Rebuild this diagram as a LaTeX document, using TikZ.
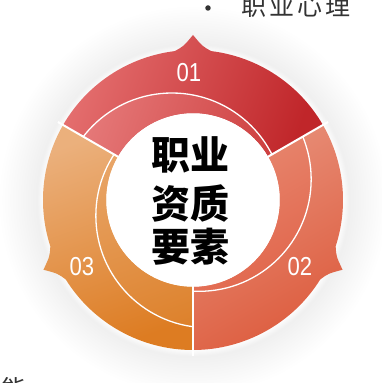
\documentclass[tikz,border=0pt]{standalone}
\usepackage{fontspec}
\setmainfont{Liberation Sans}
\newfontfamily\cjk{Noto Sans CJK SC}
\pgfdeclareradialshading{halo}{\pgfpoint{0bp}{0bp}}{color(0bp)=(white); color(19bp)=(white); color(20bp)=(black!6); color(22bp)=(black!3.5); color(23.7bp)=(black!1.5); color(25bp)=(white); color(50bp)=(white)}
\definecolor{oneL}{HTML}{E46E6E}
\definecolor{oneD}{HTML}{C0262A}
\definecolor{oneIL}{HTML}{E67A7A}
\definecolor{oneID}{HTML}{C93434}
\definecolor{twoL}{HTML}{E8907A}
\definecolor{twoD}{HTML}{DD5C3E}
\definecolor{twoIL}{HTML}{ECA08A}
\definecolor{twoID}{HTML}{E26A50}
\definecolor{thrL}{HTML}{EBB07C}
\definecolor{thrD}{HTML}{DD7C22}
\definecolor{thrIL}{HTML}{EAAA70}
\definecolor{thrID}{HTML}{DC7E26}
\definecolor{txtgrey}{HTML}{333333}
% #1 start, #2 end, #3 bump, #4 outer light, #5 outer dark, #6 inner light, #7 inner dark, #8 shading angle
\newcommand\ringseg[8]{%
  \shade[top color=#4, bottom color=#5, shading angle=#8]
    (#1:150) arc[start angle=#1, end angle=#3-7, radius=150]
    .. controls (#3-3.5:154) .. (#3:165) .. controls (#3+3.5:154) .. (#3+7:150)
    arc[start angle=#3+7, end angle=#2, radius=150] -- (#2:87)
    arc[start angle=#2, end angle=#1, radius=87] -- cycle;
  \begin{scope}
    \clip (#1:150) arc[start angle=#1, end angle=#3-7, radius=150]
    .. controls (#3-3.5:154) .. (#3:165) .. controls (#3+3.5:154) .. (#3+7:150)
    arc[start angle=#3+7, end angle=#2, radius=150] -- (#2:87)
    arc[start angle=#2, end angle=#1, radius=87] -- cycle;
    \shade[top color=#6, bottom color=#7, shading angle=#8] (#1+163.4:21.6) circle (112);
    \draw[white, line width=1.3pt] (#1+163.4:21.6) circle (112);
  \end{scope}
}
\begin{document}
\begin{tikzpicture}[x=1pt,y=1pt,
  num/.style={text=white, font=\fontsize{26}{26}\selectfont, inner sep=0pt, xscale=0.85, transform shape},
  ctext/.style={text=black, font=\cjk\bfseries\fontsize{39}{39}\selectfont, inner sep=0pt},
  side/.style={text=txtgrey, font=\cjk\fontsize{25}{25}\selectfont, inner sep=0pt, anchor=base west},
  gap/.style={white, line width=2pt}]
\useasboundingbox (-193,-183) rectangle (189,200);
\clip (-193,-183) rectangle (189,200);
\shade[shading=halo] (0,0) circle (195);
\ringseg{30}{150}{90}{oneL}{oneD}{oneIL}{oneID}{70}
\ringseg{-90}{30}{-25}{twoL}{twoD}{twoIL}{twoID}{30}
\ringseg{150}{270}{205}{thrL}{thrD}{thrIL}{thrID}{20}
\draw[gap] (30:84) -- (30:156);
\draw[gap] (150:84) -- (150:156);
\draw[gap] (270:84) -- (270:156);
\node[num] (n01) at (-4,127) {01};
\node[num] (n02) at (107,-67) {02};
\node[num] (n03) at (-111,-67) {03};
\node[ctext] (c1) at (-2,45) {职业};
\node[ctext] (c2) at (-2,-3.5) {资质};
\node[ctext] (c3) at (-2,-46.5) {要素};
\node[circle, fill=txtgrey, inner sep=0pt, minimum size=5.5pt] (bul) at (15,192) {};
\node[side] (top) at (48,184) {职\hspace{3pt}业\hspace{3pt}心\hspace{3pt}理};
\node[side] (bot) at (-192,-198) {能};
\end{tikzpicture}
\end{document}
